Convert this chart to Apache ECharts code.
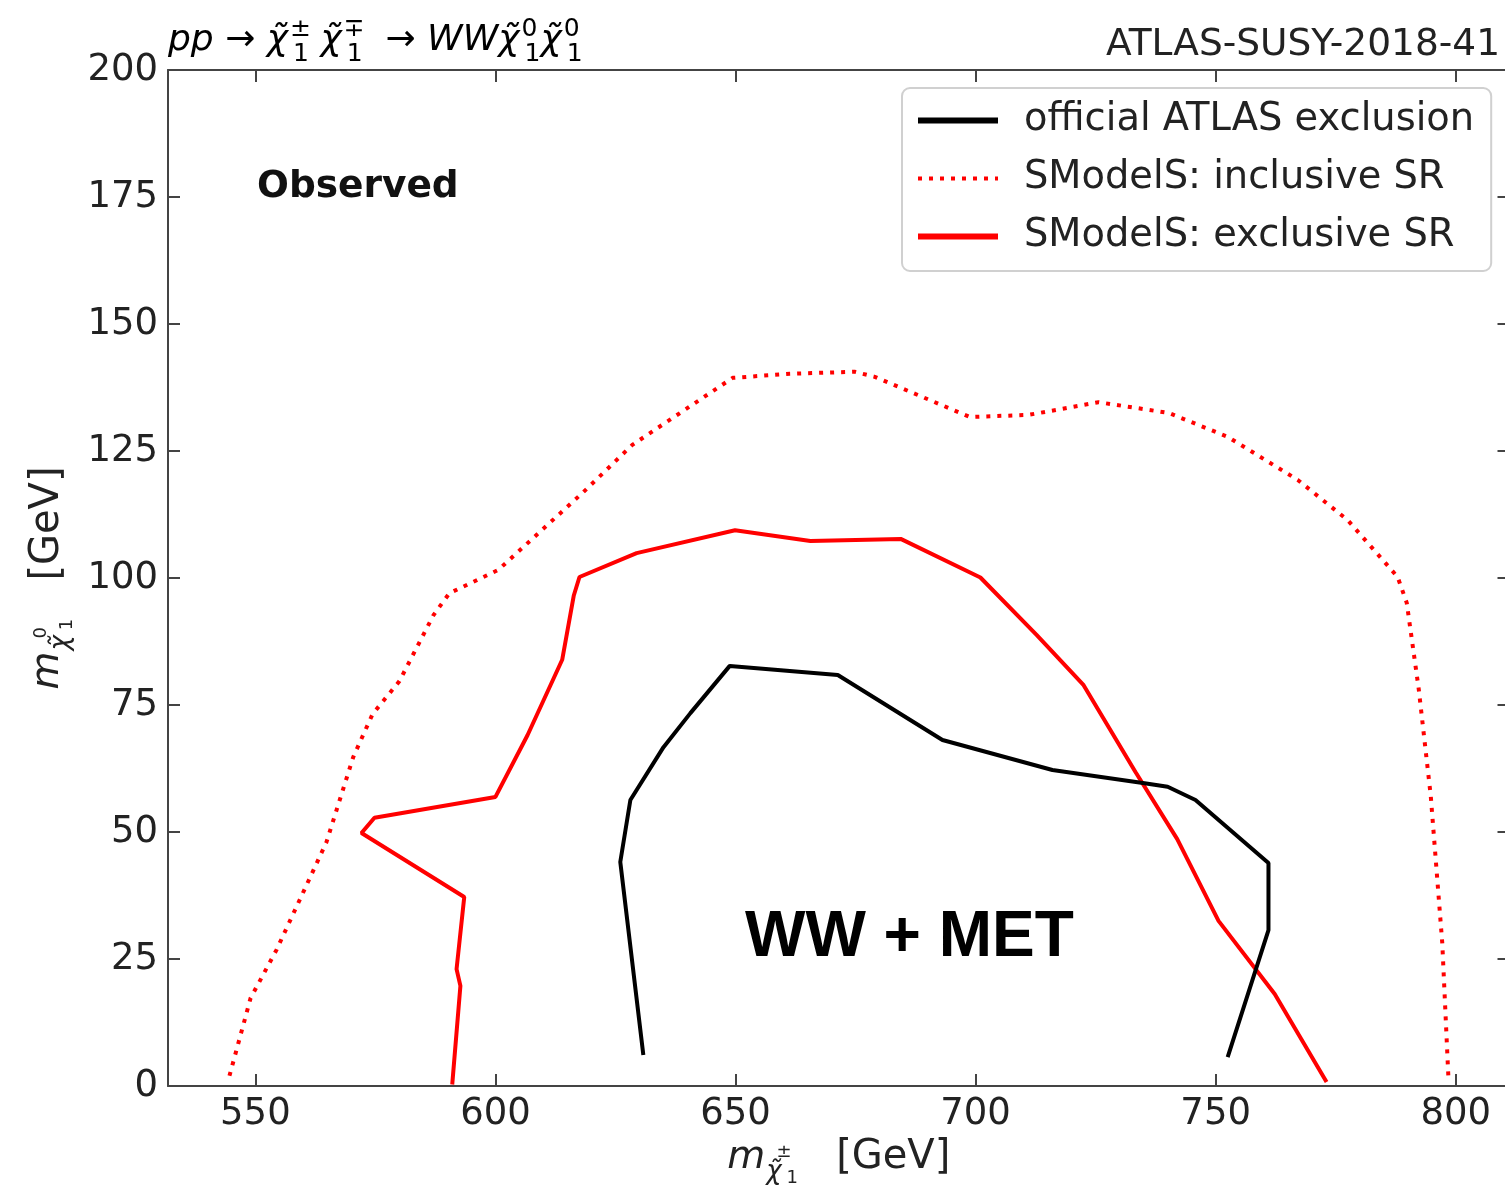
<!DOCTYPE html>
<html>
<head>
<meta charset="utf-8">
<script src="https://cdn.jsdelivr.net/npm/echarts@6/dist/echarts.min.js"></script>
<style>
html,body{margin:0;padding:0;background:#fff;}
#chart{width:1505px;height:1188px;}
</style>
</head>
<body>
<div id="chart"></div>
<script>
// ---- data ----
const officialX = [630.8, 626.0, 628.1, 635.0, 640.6, 648.8, 671.3, 693.1, 716.0, 735.2, 740.0, 745.8, 761.0, 761.0, 752.5];
const officialY = [6.1, 44.1, 56.3, 66.7, 73.4, 82.7, 80.9, 68.1, 62.2, 59.6, 58.9, 56.3, 43.9, 30.7, 5.7];

const inclX = [544.6, 549.0, 554.4, 564.8, 570.4, 574.4, 580.0, 587.1, 590.4, 600.6, 618.3, 628.5, 649.4, 661.3, 674.8, 679.0, 698.8, 711.0, 725.6, 740.2, 752.5, 767.1, 777.5, 787.9, 789.8, 792.3, 794.8, 797.2, 798.5];
const inclY = [2.0, 17.3, 26.8, 48.0, 64.8, 73.2, 79.7, 92.7, 97.0, 101.6, 116.9, 126.2, 139.4, 140.2, 140.6, 139.6, 131.7, 132.1, 134.6, 132.5, 127.8, 119.3, 111.4, 100.2, 95.1, 78.1, 57.1, 28.1, 1.2];

const exclX = [591.0, 592.7, 591.9, 593.5, 572.1, 574.8, 600.0, 606.7, 613.9, 616.3, 617.5, 629.4, 649.9, 665.6, 684.4, 701.0, 712.7, 722.5, 733.3, 742.0, 750.6, 762.3, 773.1];
const exclY = [0.3, 19.7, 23.0, 37.2, 49.8, 52.8, 56.9, 69.1, 83.9, 96.5, 100.2, 104.9, 109.4, 107.3, 107.7, 100.1, 88.8, 78.9, 61.8, 48.6, 32.5, 18.1, 0.8];

const seriesNames = ['official ATLAS exclusion', 'SModelS: inclusive SR', 'SModelS: exclusive SR'];
const xRange = [531.8, 811.2];
const yRange = [0, 200];
const yTickStep = 25;

function pairs(xs, ys) { return xs.map((x, i) => [x, ys[i]]); }

const FONT = 'DejaVu Sans';
const FS = 37;
const AX = '#444';
const TXT = '#222';

const chart = echarts.init(document.getElementById('chart'), null, {renderer: 'canvas'});

const axisNameRich = {
  i:  {fontFamily: FONT, fontStyle: 'italic', fontSize: 39, color: TXT, verticalAlign: 'middle', lineHeight: 60},
  s:  {fontFamily: FONT, fontStyle: 'italic', fontSize: 26, color: TXT, verticalAlign: 'bottom', padding: [0, 0, 3, 1]},
  up: {fontFamily: FONT, fontSize: 18, color: TXT, verticalAlign: 'top', padding: [15, 0, 0, 2], width: 1},
  dn: {fontFamily: FONT, fontSize: 18, color: TXT, verticalAlign: 'bottom', padding: [0, 0, 1, 2]},
  n:  {fontFamily: FONT, fontSize: 40, color: TXT, verticalAlign: 'middle', lineHeight: 60}
};

const titleRich = {
  m:  {fontFamily: FONT, fontStyle: 'italic', fontSize: 36, color: TXT, verticalAlign: 'middle', lineHeight: 52},
  a:  {fontFamily: FONT, fontSize: 36, color: TXT, verticalAlign: 'middle', lineHeight: 52},
  up: {fontFamily: FONT, fontSize: 25, color: TXT, verticalAlign: 'top', padding: [2, 0, 0, 2], width: 1},
  dn: {fontFamily: FONT, fontSize: 25, color: TXT, verticalAlign: 'bottom', padding: [0, 0, 0, 2]}
};

const option = {
  animation: false,
  backgroundColor: '#fff',
  grid: {left: 168, top: 70, right: -4.5, bottom: 102, containLabel: false, outerBoundsMode: 'none'},
  legend: {
    orient: 'vertical',
    left: 902,
    top: 88,
    padding: [10, 17, 12, 13],
    itemWidth: 80,
    itemHeight: 20,
    itemGap: 13,
    backgroundColor: 'rgba(255,255,255,0.85)',
    borderColor: '#d0d0d0',
    borderWidth: 2,
    borderRadius: 8,
    itemStyle: {opacity: 0},
    textStyle: {fontFamily: FONT, fontSize: 38.4, color: TXT, lineHeight: 45, padding: [0, 0, 0, 21]},
    data: [
      {name: seriesNames[0], lineStyle: {width: 6}},
      {name: seriesNames[1], lineStyle: {width: 4}},
      {name: seriesNames[2], lineStyle: {width: 6}}
    ]
  },
  xAxis: [{
    type: 'value', position: 'bottom', min: xRange[0], max: xRange[1],
    splitNumber: 5,
    axisLine: {show: true, onZero: false, lineStyle: {color: AX, width: 2}},
    axisTick: {show: true, inside: true, length: 12, lineStyle: {color: AX, width: 2}},
    splitLine: {show: false},
    axisLabel: {
      show: true, margin: 10, fontFamily: FONT, fontSize: FS, color: TXT,
      showMinLabel: false, showMaxLabel: false,
      formatter: v => (Math.abs(v % 50) < 1e-6 ? String(v) : '')
    },
    name: '{i|m}{s|χ̃}{up|±}{dn|1}{n|   [GeV]}',
    nameLocation: 'middle',
    nameGap: 38,
    nameTextStyle: {rich: axisNameRich}
  }, {
    type: 'value', position: 'top', min: xRange[0], max: xRange[1],
    splitNumber: 5,
    axisLine: {show: true, onZero: false, lineStyle: {color: AX, width: 2}},
    axisTick: {show: true, inside: true, length: 12, lineStyle: {color: AX, width: 2}},
    splitLine: {show: false},
    axisLabel: {show: false}
  }],
  yAxis: [{
    type: 'value', position: 'left', min: yRange[0], max: yRange[1], interval: yTickStep,
    axisLine: {show: true, onZero: false, lineStyle: {color: AX, width: 2}},
    axisTick: {show: true, inside: true, length: 12, lineStyle: {color: AX, width: 2}},
    splitLine: {show: false},
    axisLabel: {show: true, margin: 10, fontFamily: FONT, fontSize: FS, color: TXT},
    name: '{i|m}{s|χ̃}{up|0}{dn|1}{n|   [GeV]}',
    nameLocation: 'middle',
    nameRotate: 90,
    nameGap: 60,
    nameTextStyle: {rich: axisNameRich}
  }, {
    type: 'value', position: 'right', min: yRange[0], max: yRange[1], interval: yTickStep,
    axisLine: {show: true, onZero: false, lineStyle: {color: AX, width: 2}},
    axisTick: {show: true, inside: true, length: 12, lineStyle: {color: AX, width: 2}},
    splitLine: {show: false},
    axisLabel: {show: false}
  }],
  series: [{
    name: seriesNames[0], type: 'line', xAxisIndex: 0, yAxisIndex: 0,
    data: pairs(officialX, officialY), symbol: 'none', smooth: false,
    lineStyle: {color: '#000', width: 4}, itemStyle: {color: '#000'}, z: 3
  }, {
    name: seriesNames[1], type: 'line', xAxisIndex: 0, yAxisIndex: 0,
    data: pairs(inclX, inclY), symbol: 'none', smooth: false,
    lineStyle: {color: '#ff0000', width: 4, type: [4, 7], cap: 'butt'}, itemStyle: {color: '#ff0000'}, z: 2
  }, {
    name: seriesNames[2], type: 'line', xAxisIndex: 0, yAxisIndex: 0,
    data: pairs(exclX, exclY), symbol: 'none', smooth: false,
    lineStyle: {color: '#ff0000', width: 4}, itemStyle: {color: '#ff0000'}, z: 2
  }],
  graphic: [{
    type: 'text', left: 168, top: 17, z: 10,
    style: {
      text: '{m|pp}{a| → }{m|χ̃}{up|±}{dn|1}{a| }{m|χ̃}{up|∓}{dn|1}{a|  → }{m|WWχ̃}{up|0}{dn|1}{m|χ̃}{up|0}{dn|1}',
      rich: titleRich
    }
  }, {
    type: 'text', right: 5, top: 26, z: 10,
    style: {text: 'ATLAS-SUSY-2018-41', fontFamily: FONT, fontSize: 37.5, fill: TXT}
  }, {
    type: 'text', left: 257, top: 168, z: 10,
    style: {text: 'Observed', fontFamily: FONT, fontWeight: 'bold', fontSize: 37.5, fill: '#111'}
  }, {
    type: 'text', left: 745, top: 906, z: 10,
    style: {text: 'WW + MET', fontFamily: 'Liberation Sans', fontWeight: 'bold', fontSize: 64, fill: '#000'}
  }]
};

chart.setOption(option);
</script>
</body>
</html>
